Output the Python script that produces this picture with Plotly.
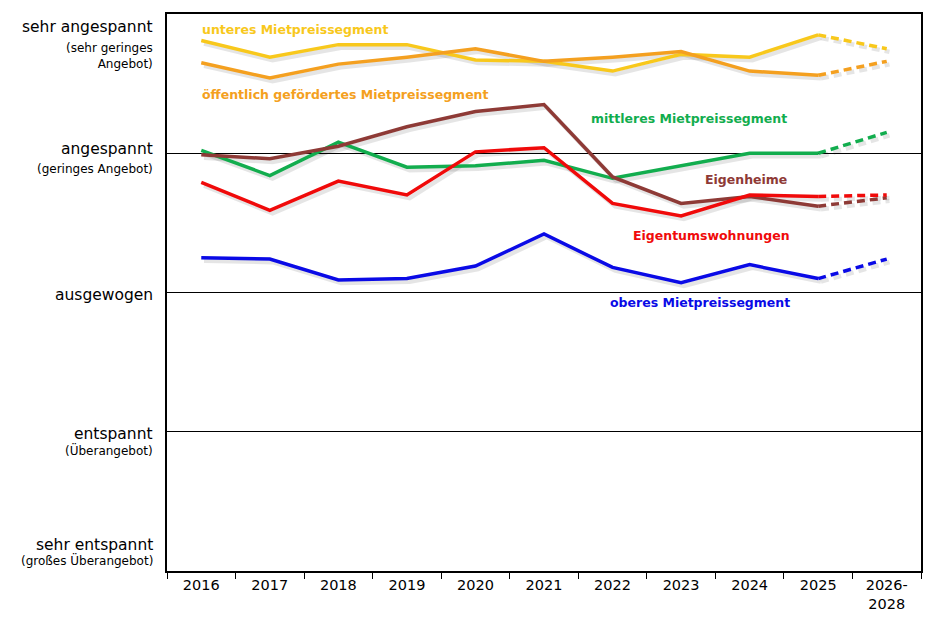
import plotly.graph_objects as go

categories = ["2016", "2017", "2018", "2019", "2020", "2021", "2022", "2023", "2024", "2025", "2026-<br>2028"]

unteres = [4.81, 4.69, 4.78, 4.78, 4.67, 4.66, 4.59, 4.71, 4.69, 4.85, 4.75]
oeffentlich = [4.65, 4.54, 4.64, 4.69, 4.75, 4.66, 4.69, 4.73, 4.59, 4.56, 4.66]
mittleres = [4.02, 3.84, 4.08, 3.90, 3.91, 3.95, 3.82, 3.91, 4.00, 4.00, 4.15]
eigenheime = [3.99, 3.96, 4.05, 4.19, 4.30, 4.35, 3.83, 3.64, 3.69, 3.62, 3.68]
eigentum = [3.79, 3.59, 3.80, 3.70, 4.01, 4.04, 3.64, 3.55, 3.70, 3.69, 3.70]
oberes = [3.25, 3.24, 3.09, 3.10, 3.19, 3.42, 3.18, 3.07, 3.20, 3.10, 3.24]

series = [
    ("unteres Mietpreissegment", unteres, "#F8C81C"),
    ("öffentlich gefördertes Mietpreissegment", oeffentlich, "#F4A020"),
    ("mittleres Mietpreissegment", mittleres, "#12AD4E"),
    ("Eigenheime", eigenheime, "#8E3A36"),
    ("Eigentumswohnungen", eigentum, "#F00A0A"),
    ("oberes Mietpreissegment", oberes, "#0A0AE6"),
]

level_values = [5, 4, 3, 2, 1]
level_main = ["sehr angespannt", "angespannt", "ausgewogen", "entspannt", "sehr entspannt"]
level_sub = ["(sehr geringes<br>Angebot)", "(geringes Angebot)", "", "(Überangebot)", "(großes Überangebot)"]

xs = list(range(len(categories)))
fig = go.Figure()

# soft shadows
for name, vals, col in series:
    sx = [x + 0.04 for x in xs]
    sy = [v - 0.022 for v in vals]
    fig.add_trace(go.Scatter(x=sx[:10], y=sy[:10], mode="lines",
                             line=dict(color="rgba(0,0,0,0.10)", width=4.5),
                             hoverinfo="skip", showlegend=False))
    fig.add_trace(go.Scatter(x=sx[9:], y=sy[9:], mode="lines",
                             line=dict(color="rgba(0,0,0,0.10)", width=4.5, dash="8px,5px"),
                             hoverinfo="skip", showlegend=False))

for name, vals, col in series:
    fig.add_trace(go.Scatter(x=xs[:10], y=vals[:10], mode="lines", name=name,
                             line=dict(color=col, width=3.5), showlegend=False))
    fig.add_trace(go.Scatter(x=xs[9:], y=vals[9:], mode="lines", name=name,
                             line=dict(color=col, width=3.5, dash="8px,5px"), showlegend=False))

label_font = "DejaVu Sans"
ann = []
ann.append(dict(text="<b>unteres Mietpreissegment</b>", x=-0.02, y=4.89, xanchor="left",
                font=dict(color=series[0][2], size=12.5)))
ann.append(dict(text="<b>öffentlich gefördertes Mietpreissegment</b>", x=-0.02, y=4.42, xanchor="left",
                font=dict(color=series[1][2], size=12.5)))
ann.append(dict(text="<b>mittleres Mietpreissegment</b>", x=8.57, y=4.25, xanchor="right",
                font=dict(color=series[2][2], size=12.5)))
ann.append(dict(text="<b>Eigenheime</b>", x=8.58, y=3.81, xanchor="right",
                font=dict(color=series[3][2], size=12.5)))
ann.append(dict(text="<b>Eigentumswohnungen</b>", x=8.62, y=3.41, xanchor="right",
                font=dict(color=series[4][2], size=12.5)))
ann.append(dict(text="<b>oberes Mietpreissegment</b>", x=8.62, y=2.93, xanchor="right",
                font=dict(color=series[5][2], size=12.5)))
for a in ann:
    a.update(xref="x", yref="y", showarrow=False, yanchor="middle")
    a["font"]["family"] = label_font

main_y = [4.905, 4.03, 2.985, 1.985, 1.19]
sub_y = [4.70, 3.89, None, 1.87, 1.08]
for v, m, s, my, sy in zip(level_values, level_main, level_sub, main_y, sub_y):
    ann.append(dict(text=m, xref="paper", yref="y", x=-0.016, y=my, xanchor="right", yanchor="middle",
                    showarrow=False, font=dict(family=label_font, size=15.5, color="black")))
    if s:
        ann.append(dict(text=s, xref="paper", yref="y", x=-0.016, y=sy, xanchor="right", yanchor="middle",
                        align="right", showarrow=False,
                        font=dict(family=label_font, size=12, color="black")))

fig.update_layout(
    width=923, height=624,
    margin=dict(l=159, r=10, t=4, b=61),
    paper_bgcolor="white", plot_bgcolor="white",
    annotations=ann,
    showlegend=False,
    xaxis=dict(range=[-0.5, 10.5], tickmode="array", tickvals=xs, ticktext=categories,
               ticks="", showgrid=False, zeroline=False,
               showline=True, linecolor="black", linewidth=1.5, mirror=True,
               tickfont=dict(family=label_font, size=14.5, color="black"),
               minor=dict(tickmode="linear", tick0=-0.5, dtick=1, ticks="outside",
                          ticklen=6, tickcolor="black", tickwidth=1, showgrid=False)),
    yaxis=dict(range=[1, 5], tickmode="linear", tick0=1, dtick=1, showticklabels=False,
               ticks="", showgrid=True, gridcolor="black", gridwidth=1, zeroline=False,
               showline=True, linecolor="black", linewidth=1.5, mirror=True),
)

fig.write_html("out.html")
